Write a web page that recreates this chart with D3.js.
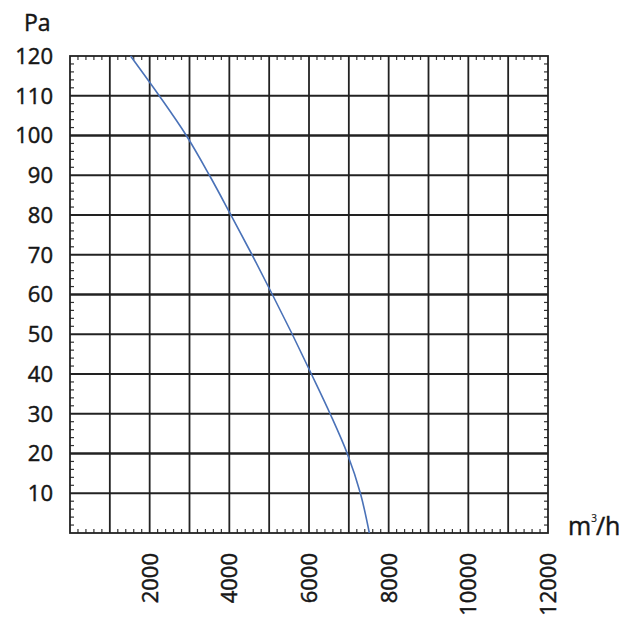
<!DOCTYPE html>
<html>
<head>
<meta charset="utf-8">
<script src="https://cdn.jsdelivr.net/npm/d3@7"></script>
<style>
  body { margin: 0; background: #fff; }
  text { font-family: "Open Sans", "Noto Sans", sans-serif; fill: #161616; stroke: #161616; stroke-width: 0.45px; }
</style>
</head>
<body>
<svg id="chart" width="631" height="619"></svg>
<script>
// fan curve: flow (m3/h) vs static pressure (Pa)
const flow     = [1520, 2240, 2920, 3500, 4040, 4570, 5080, 5580, 6060, 6530, 6960, 7290, 7515];
const pressure = [120,  110,  100,  90,   80,   70,   60,   50,   40,   30,   20,   10,   0];

const xTicks = [2000, 4000, 6000, 8000, 10000, 12000];
const yTicks = [10, 20, 30, 40, 50, 60, 70, 80, 90, 100, 110, 120];
const xGrid = d3.range(1000, 12000, 1000);
const yGrid = d3.range(10, 120, 10);
const boldY = [20, 60, 100];

const svg = d3.select("#chart");
const plotLeft = 70, plotRight = 548, plotTop = 56, plotBottom = 533;

const x = d3.scaleLinear().domain([0, 12000]).range([plotLeft, plotRight]);
const y = d3.scaleLinear().domain([0, 120]).range([plotBottom, plotTop]);

// grid
svg.append("g").selectAll("line")
    .data(xGrid)
    .join("line")
    .attr("x1", d => x(d)).attr("x2", d => x(d))
    .attr("y1", plotTop).attr("y2", plotBottom)
    .attr("stroke", "#222")
    .attr("stroke-width", 1.8);

svg.append("g").selectAll("line")
    .data(yGrid)
    .join("line")
    .attr("x1", plotLeft).attr("x2", plotRight)
    .attr("y1", d => y(d)).attr("y2", d => y(d))
    .attr("stroke", "#222")
    .attr("stroke-width", d => boldY.includes(d) ? 2.4 : 1.8);

// minor ticks on the inside of every edge, 5 per cell
const minorX = d3.range(0, 12000, 200).filter(d => d % 1000 !== 0);
const minorY = d3.range(0, 120, 2).filter(d => d % 10 !== 0);
const tickLen = 4;
const minor = svg.append("g").attr("stroke", "#333").attr("stroke-width", 1.2);

minor.selectAll(".tb").data(minorX).join("line")
    .attr("class", "tb")
    .attr("x1", d => x(d)).attr("x2", d => x(d))
    .attr("y1", plotBottom).attr("y2", plotBottom - tickLen);
minor.selectAll(".tt").data(minorX).join("line")
    .attr("class", "tt")
    .attr("x1", d => x(d)).attr("x2", d => x(d))
    .attr("y1", plotTop).attr("y2", plotTop + tickLen);
minor.selectAll(".tl").data(minorY).join("line")
    .attr("class", "tl")
    .attr("x1", plotLeft).attr("x2", plotLeft + tickLen)
    .attr("y1", d => y(d)).attr("y2", d => y(d));
minor.selectAll(".tr").data(minorY).join("line")
    .attr("class", "tr")
    .attr("x1", plotRight).attr("x2", plotRight - tickLen)
    .attr("y1", d => y(d)).attr("y2", d => y(d));

// frame
svg.append("rect")
    .attr("x", plotLeft).attr("y", plotTop)
    .attr("width", plotRight - plotLeft).attr("height", plotBottom - plotTop)
    .attr("fill", "none")
    .attr("stroke", "#222")
    .attr("stroke-width", 1.8);

// curve
const line = d3.line()
    .x(d => x(d[0]))
    .y(d => y(d[1]))
    .curve(d3.curveCatmullRom.alpha(0.5));

svg.append("path")
    .datum(d3.zip(flow, pressure))
    .attr("fill", "none")
    .attr("stroke", "#4a72b8")
    .attr("stroke-width", 1.6)
    .attr("d", line);

// y tick labels
svg.append("g").selectAll("text")
    .data(yTicks)
    .join("text")
    .attr("x", 53)
    .attr("y", d => y(d))
    .attr("dy", "0.36em")
    .attr("text-anchor", "end")
    .style("font-size", "22px")
    .text(d => d);

// x tick labels, rotated
svg.append("g").selectAll("text")
    .data(xTicks)
    .join("text")
    .attr("transform", d => `translate(${x(d)},553) rotate(-90)`)
    .attr("dy", "0.36em")
    .attr("text-anchor", "end")
    .style("font-size", "22px")
    .text(d => d);

// units
svg.append("text")
    .attr("x", 24).attr("y", 31)
    .style("font-size", "23px")
    .text("Pa");

const unit = svg.append("text")
    .attr("x", 568).attr("y", 535)
    .style("font-size", "25px");
unit.append("tspan").text("m");
unit.append("tspan").attr("dy", -13).attr("dx", 0).style("font-size", "10px").style("stroke-width", "0.2px").text("3");
unit.append("tspan").attr("dy", 13).attr("dx", -1).text("/h");
</script>
</body>
</html>
